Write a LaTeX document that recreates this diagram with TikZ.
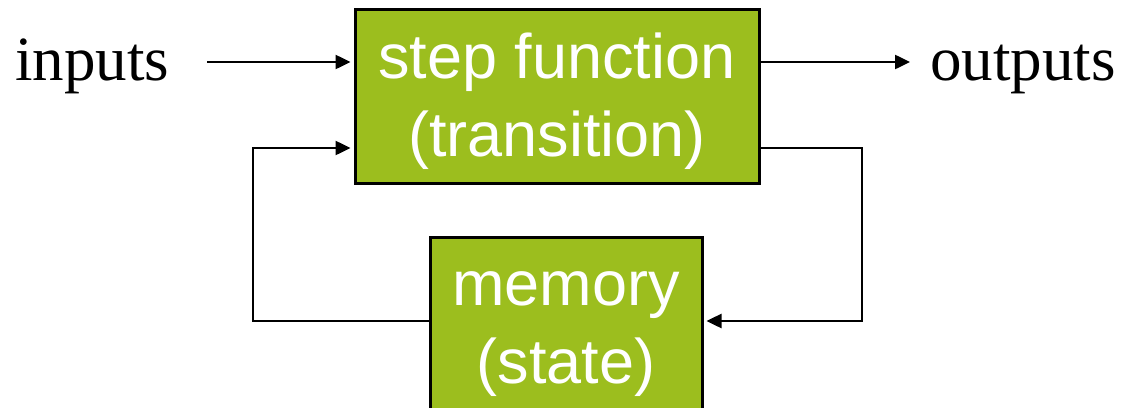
\documentclass[tikz,border=0pt]{standalone}
\usepackage{fontspec}
\setmainfont{Liberation Serif}
\newfontfamily\boxfont{Liberation Sans}
\usetikzlibrary{arrows.meta}
\definecolor{boxgreen}{HTML}{9CBE1E}
\tikzset{
  block/.style={draw=black, line width=3pt, fill=boxgreen, inner sep=0pt,
    anchor=base, text=white, font=\boxfont\fontsize{63}{78}\selectfont},
  label text/.style={inner sep=0pt, anchor=base west, font=\fontsize{63}{78}\selectfont},
  conn/.style={line width=2.5pt, -{Triangle[length=15pt,width=14pt]}, shorten >=3pt},
}
\newcommand{\twolines}[2]{\begin{tabular}[t]{@{}c@{}}#1\\#2\end{tabular}}
\begin{document}
\begin{tikzpicture}[x=1pt, y=-1pt]
  \clip (0,0) rectangle (1124,407);
  \fill[white] (0,0) rectangle (1124,407);

  % transition block: top 9, bottom 183, first baseline 78
  \node[block, minimum width=404pt, text height=69pt, text depth=105pt]
    (step) at (557,78) {\twolines{step function}{(transition)}};
  % state block: runs off the lower edge
  \node[block, minimum width=272pt, text height=68pt, text depth=125pt]
    (mem) at (566,305) {\twolines{memory}{(state)}};

  \node[label text] (inputs) at (15,80) {inputs};
  \node[label text] (outputs) at (930,80) {outputs};

  \coordinate (inA) at (207,62);
  \coordinate (outA) at (910,62);

  \draw[conn] (inA) -- (inA -| step.west);
  \draw[conn, shorten >=0pt] (step.east |- inA) -- (outA);

  % feedback loop
  \draw[conn] (step.east |- 0,148) -| (862,321) -- (mem.east |- 0,321);
  \draw[conn] (mem.west |- 0,321) -| (253,148) -- (step.west |- 0,148);
\end{tikzpicture}
\end{document}
